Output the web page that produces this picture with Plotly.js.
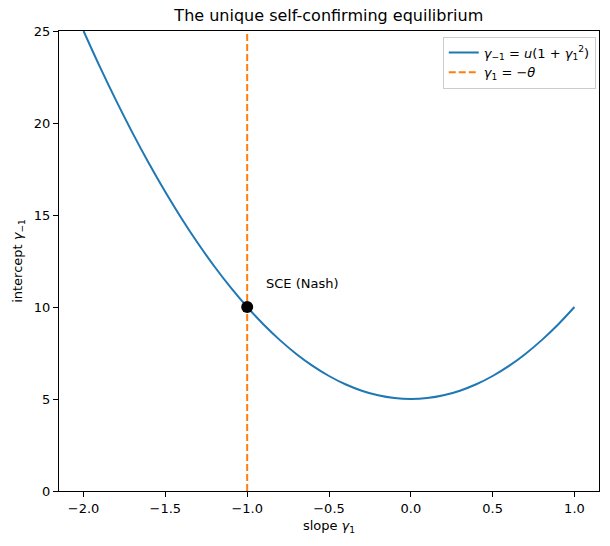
<!DOCTYPE html>
<html>
<head>
<meta charset="utf-8">
<script src="https://cdn.plot.ly/plotly-3.0.1.min.js"></script>
<style>
  html, body { margin: 0; padding: 0; background: #fff; }
  #chart { width: 610px; height: 546px; }
</style>
</head>
<body>
<div id="chart"></div>
<script>
// Slope values gamma_1 along the curve
const slopes = [-2.0, -1.9, -1.8, -1.7, -1.6, -1.5, -1.4, -1.3, -1.2, -1.1,
                -1.0, -0.9, -0.8, -0.7, -0.6, -0.5, -0.4, -0.3, -0.2, -0.1,
                 0.0,  0.1,  0.2,  0.3,  0.4,  0.5,  0.6,  0.7,  0.8,  0.9, 1.0];
// Intercept values gamma_{-1} = u(1 + gamma_1^2) with u = 5
const intercepts = [25.0, 23.05, 21.2, 19.45, 17.8, 16.25, 14.8, 13.45, 12.2, 11.05,
                    10.0, 9.05, 8.2, 7.45, 6.8, 6.25, 5.8, 5.45, 5.2, 5.05,
                    5.0, 5.05, 5.2, 5.45, 5.8, 6.25, 6.8, 7.45, 8.2, 9.05, 10.0];
// Vertical line gamma_1 = -theta
const thetaLineX = [-1.0, -1.0];
const thetaLineY = [0, 25];
// Equilibrium point and its label position
const sceX = [-1.0];
const sceY = [10.0];
const sceLabel = 'SCE (Nash)';
const sceLabelPos = {x: -0.9, y: 11};

const xTicks = [-2.0, -1.5, -1.0, -0.5, 0.0, 0.5, 1.0];
const xTickText = ['\u22122.0', '\u22121.5', '\u22121.0', '\u22120.5', '0.0', '0.5', '1.0'];
const yTicks = [0, 5, 10, 15, 20, 25];

const fontFam = 'DejaVu Sans, sans-serif';

const traces = [
  {
    x: slopes, y: intercepts, type: 'scatter', mode: 'lines',
    line: {color: '#1f77b4', width: 2, shape: 'spline'},
    name: '<i>\u03b3</i><sub>\u22121</sub> = <i>u</i>(1 + <i>\u03b3</i><sub>1</sub><sup>2</sup>)'
  },
  {
    x: thetaLineX, y: thetaLineY, type: 'scatter', mode: 'lines',
    line: {color: '#ff7f0e', width: 2, dash: '7px,3px'},
    name: '<i>\u03b3</i><sub>1</sub> = \u2212<i>\u03b8</i>'
  },
  {
    x: sceX, y: sceY, type: 'scatter', mode: 'markers',
    marker: {color: '#000000', size: 12},
    showlegend: false, hoverinfo: 'skip'
  }
];

const axisCommon = {
  showline: true, linecolor: '#000', linewidth: 1, mirror: true,
  ticks: 'outside', ticklen: 5, tickwidth: 1, tickcolor: '#000',
  showgrid: false, zeroline: false,
  tickfont: {family: fontFam, size: 13, color: '#000'}
};

const layout = {
  width: 610, height: 546,
  margin: {l: 59, r: 11, t: 31, b: 55},
  paper_bgcolor: '#fff', plot_bgcolor: '#fff',
  font: {family: fontFam, color: '#000'},
  title: {
    text: 'The unique self-confirming equilibrium',
    font: {family: fontFam, size: 16, color: '#000'},
    x: 0.539, xanchor: 'center', y: 0.972, yanchor: 'middle'
  },
  xaxis: Object.assign({}, axisCommon, {
    range: [-2.15, 1.15],
    tickvals: xTicks, ticktext: xTickText,
    title: {text: 'slope <i>\u03b3</i><sub>1</sub>', font: {family: fontFam, size: 13, color: '#000'}, standoff: 6}
  }),
  yaxis: Object.assign({}, axisCommon, {
    range: [0, 25],
    tickvals: yTicks,
    title: {text: 'intercept <i>\u03b3</i><sub>\u22121</sub>', font: {family: fontFam, size: 13, color: '#000'}, standoff: 8}
  }),
  legend: {
    x: 0.994, xanchor: 'right', y: 0.988, yanchor: 'top',
    bgcolor: 'rgba(255,255,255,0.8)', bordercolor: '#cccccc', borderwidth: 1,
    font: {family: fontFam, size: 13, color: '#000'},
    tracegroupgap: 2
  },
  annotations: [{
    x: sceLabelPos.x, y: sceLabelPos.y, xref: 'x', yref: 'y',
    text: sceLabel, showarrow: false,
    xanchor: 'left', yanchor: 'bottom', yshift: -4,
    font: {family: fontFam, size: 13, color: '#000'}
  }],
  showlegend: true
};

Plotly.newPlot('chart', traces, layout, {displayModeBar: false, staticPlot: true});
</script>
</body>
</html>
